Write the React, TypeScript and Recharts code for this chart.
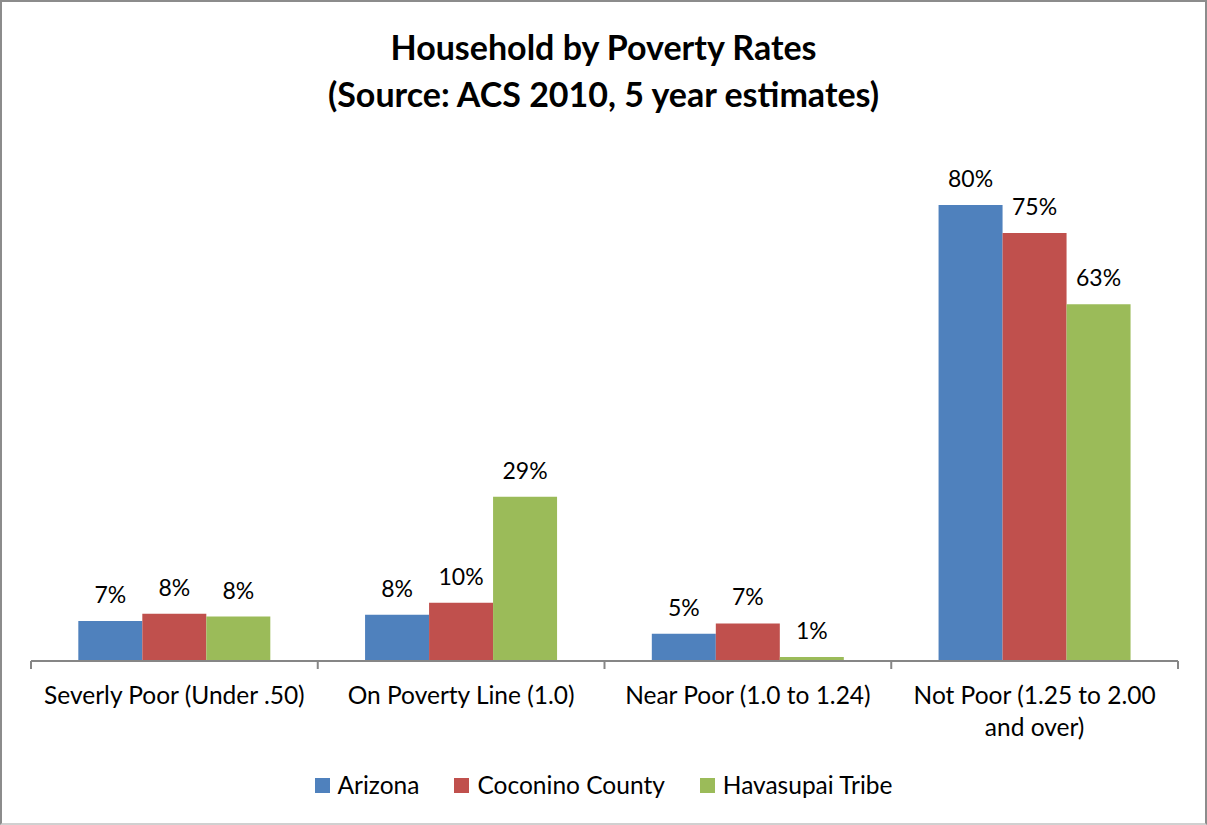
import React from 'react';
import { BarChart, Bar, XAxis, YAxis, Legend, LabelList } from 'recharts';

const categories = [
  'Severly Poor (Under .50)',
  'On Poverty Line (1.0)',
  'Near Poor (1.0 to 1.24)',
  'Not Poor (1.25 to 2.00 and over)',
];
const arizona = [0.07, 0.081, 0.048, 0.8];
const coconino = [0.083, 0.102, 0.066, 0.751];
const havasupai = [0.078, 0.288, 0.007, 0.626];

const SERIES = [
  { key: 'arizona', name: 'Arizona', color: '#4F81BD' },
  { key: 'coconino', name: 'Coconino County', color: '#C0504D' },
  { key: 'havasupai', name: 'Havasupai Tribe', color: '#9BBB59' },
];

const data = categories.map((c, i) => ({
  category: c,
  arizona: arizona[i],
  coconino: coconino[i],
  havasupai: havasupai[i],
}));

const FONT = 'Lato, "Open Sans", sans-serif';
const AXIS = '#868686';

const pct = (v: number) => `${Math.round(v * 100)}%`;

// greedy word wrap by character count (Excel wraps the long category label)
function wrap(label: string, maxChars = 24) {
  const lines: string[] = [];
  let cur = '';
  for (const w of label.split(' ')) {
    const next = cur ? `${cur} ${w}` : w;
    if (next.length > maxChars && cur) {
      lines.push(cur);
      cur = w;
    } else {
      cur = next;
    }
  }
  if (cur) lines.push(cur);
  return lines;
}

function CategoryTick(props: any) {
  const { x, y, payload, index } = props;
  const half = payload?.offset ?? 143;
  const axisY = y - 8;
  const lines = wrap(String(payload.value));
  return (
    <g>
      <line x1={x - half} x2={x - half} y1={axisY} y2={axisY + 8} stroke={AXIS} strokeWidth={2} />
      {index === categories.length - 1 && (
        <line x1={x + half} x2={x + half} y1={axisY} y2={axisY + 8} stroke={AXIS} strokeWidth={2} />
      )}
      <text x={x} y={axisY + 43} textAnchor="middle" fontSize={24.5} fontFamily={FONT} fill="#000">
        {lines.map((l, i) => (
          <tspan key={i} x={x} dy={i === 0 ? 0 : 32}>
            {l}
          </tspan>
        ))}
      </text>
    </g>
  );
}

function LegendContent() {
  return (
    <div style={{ display: 'flex', justifyContent: 'center', gap: 35, fontFamily: FONT, fontSize: 24.5, lineHeight: '30px' }}>
      {SERIES.map((s) => (
        <div key={s.key} style={{ display: 'flex', alignItems: 'center' }}>
          <span style={{ width: 15, height: 15, background: s.color, display: 'inline-block', marginRight: 8 }} />
          <span>{s.name}</span>
        </div>
      ))}
    </div>
  );
}

export default function App() {
  return (
    <div
      style={{
        position: 'absolute',
        left: 0,
        top: 0,
        width: 1207,
        height: 825,
        background: '#fff',
        boxSizing: 'border-box',
        border: '2px solid #8c8c8c',
        borderBottomColor: '#d0d0d0',
        fontFamily: FONT,
      }}
    >
      <div
        style={{
          position: 'absolute',
          top: 21,
          left: 0,
          width: '100%',
          textAlign: 'center',
          fontWeight: 'bold',
          fontSize: 34,
          lineHeight: '47px',
          color: '#000',
        }}
      >
        Household by Poverty Rates
        <br />
        (Source: ACS 2010, 5 year estimates)
      </div>
      <div style={{ position: 'absolute', left: -2, top: -2 }}>
        <BarChart
          width={1207}
          height={825}
          data={data}
          margin={{ top: 148, right: 29, bottom: 104, left: 31 }}
          barCategoryGap="16.5%"
          barGap={0}
        >
          <XAxis
            dataKey="category"
            height={60}
            axisLine={{ stroke: AXIS, strokeWidth: 2 }}
            tickLine={false}
            tick={<CategoryTick />}
            interval={0}
          />
          <YAxis hide domain={[0, 0.9]} />
          <Legend
            layout="horizontal"
            verticalAlign="middle"
            align="center"
            content={<LegendContent />}
            wrapperStyle={{ top: 770, left: 0, width: 1207 }}
          />
          {SERIES.map((s) => (
            <Bar key={s.key} dataKey={s.key} name={s.name} fill={s.color} isAnimationActive={false}>
              <LabelList
                dataKey={s.key}
                position="top"
                offset={18}
                formatter={(v: any) => pct(Number(v))}
                style={{ fontSize: 23, fontFamily: FONT, fill: '#000' }}
              />
            </Bar>
          ))}
        </BarChart>
      </div>
    </div>
  );
}
